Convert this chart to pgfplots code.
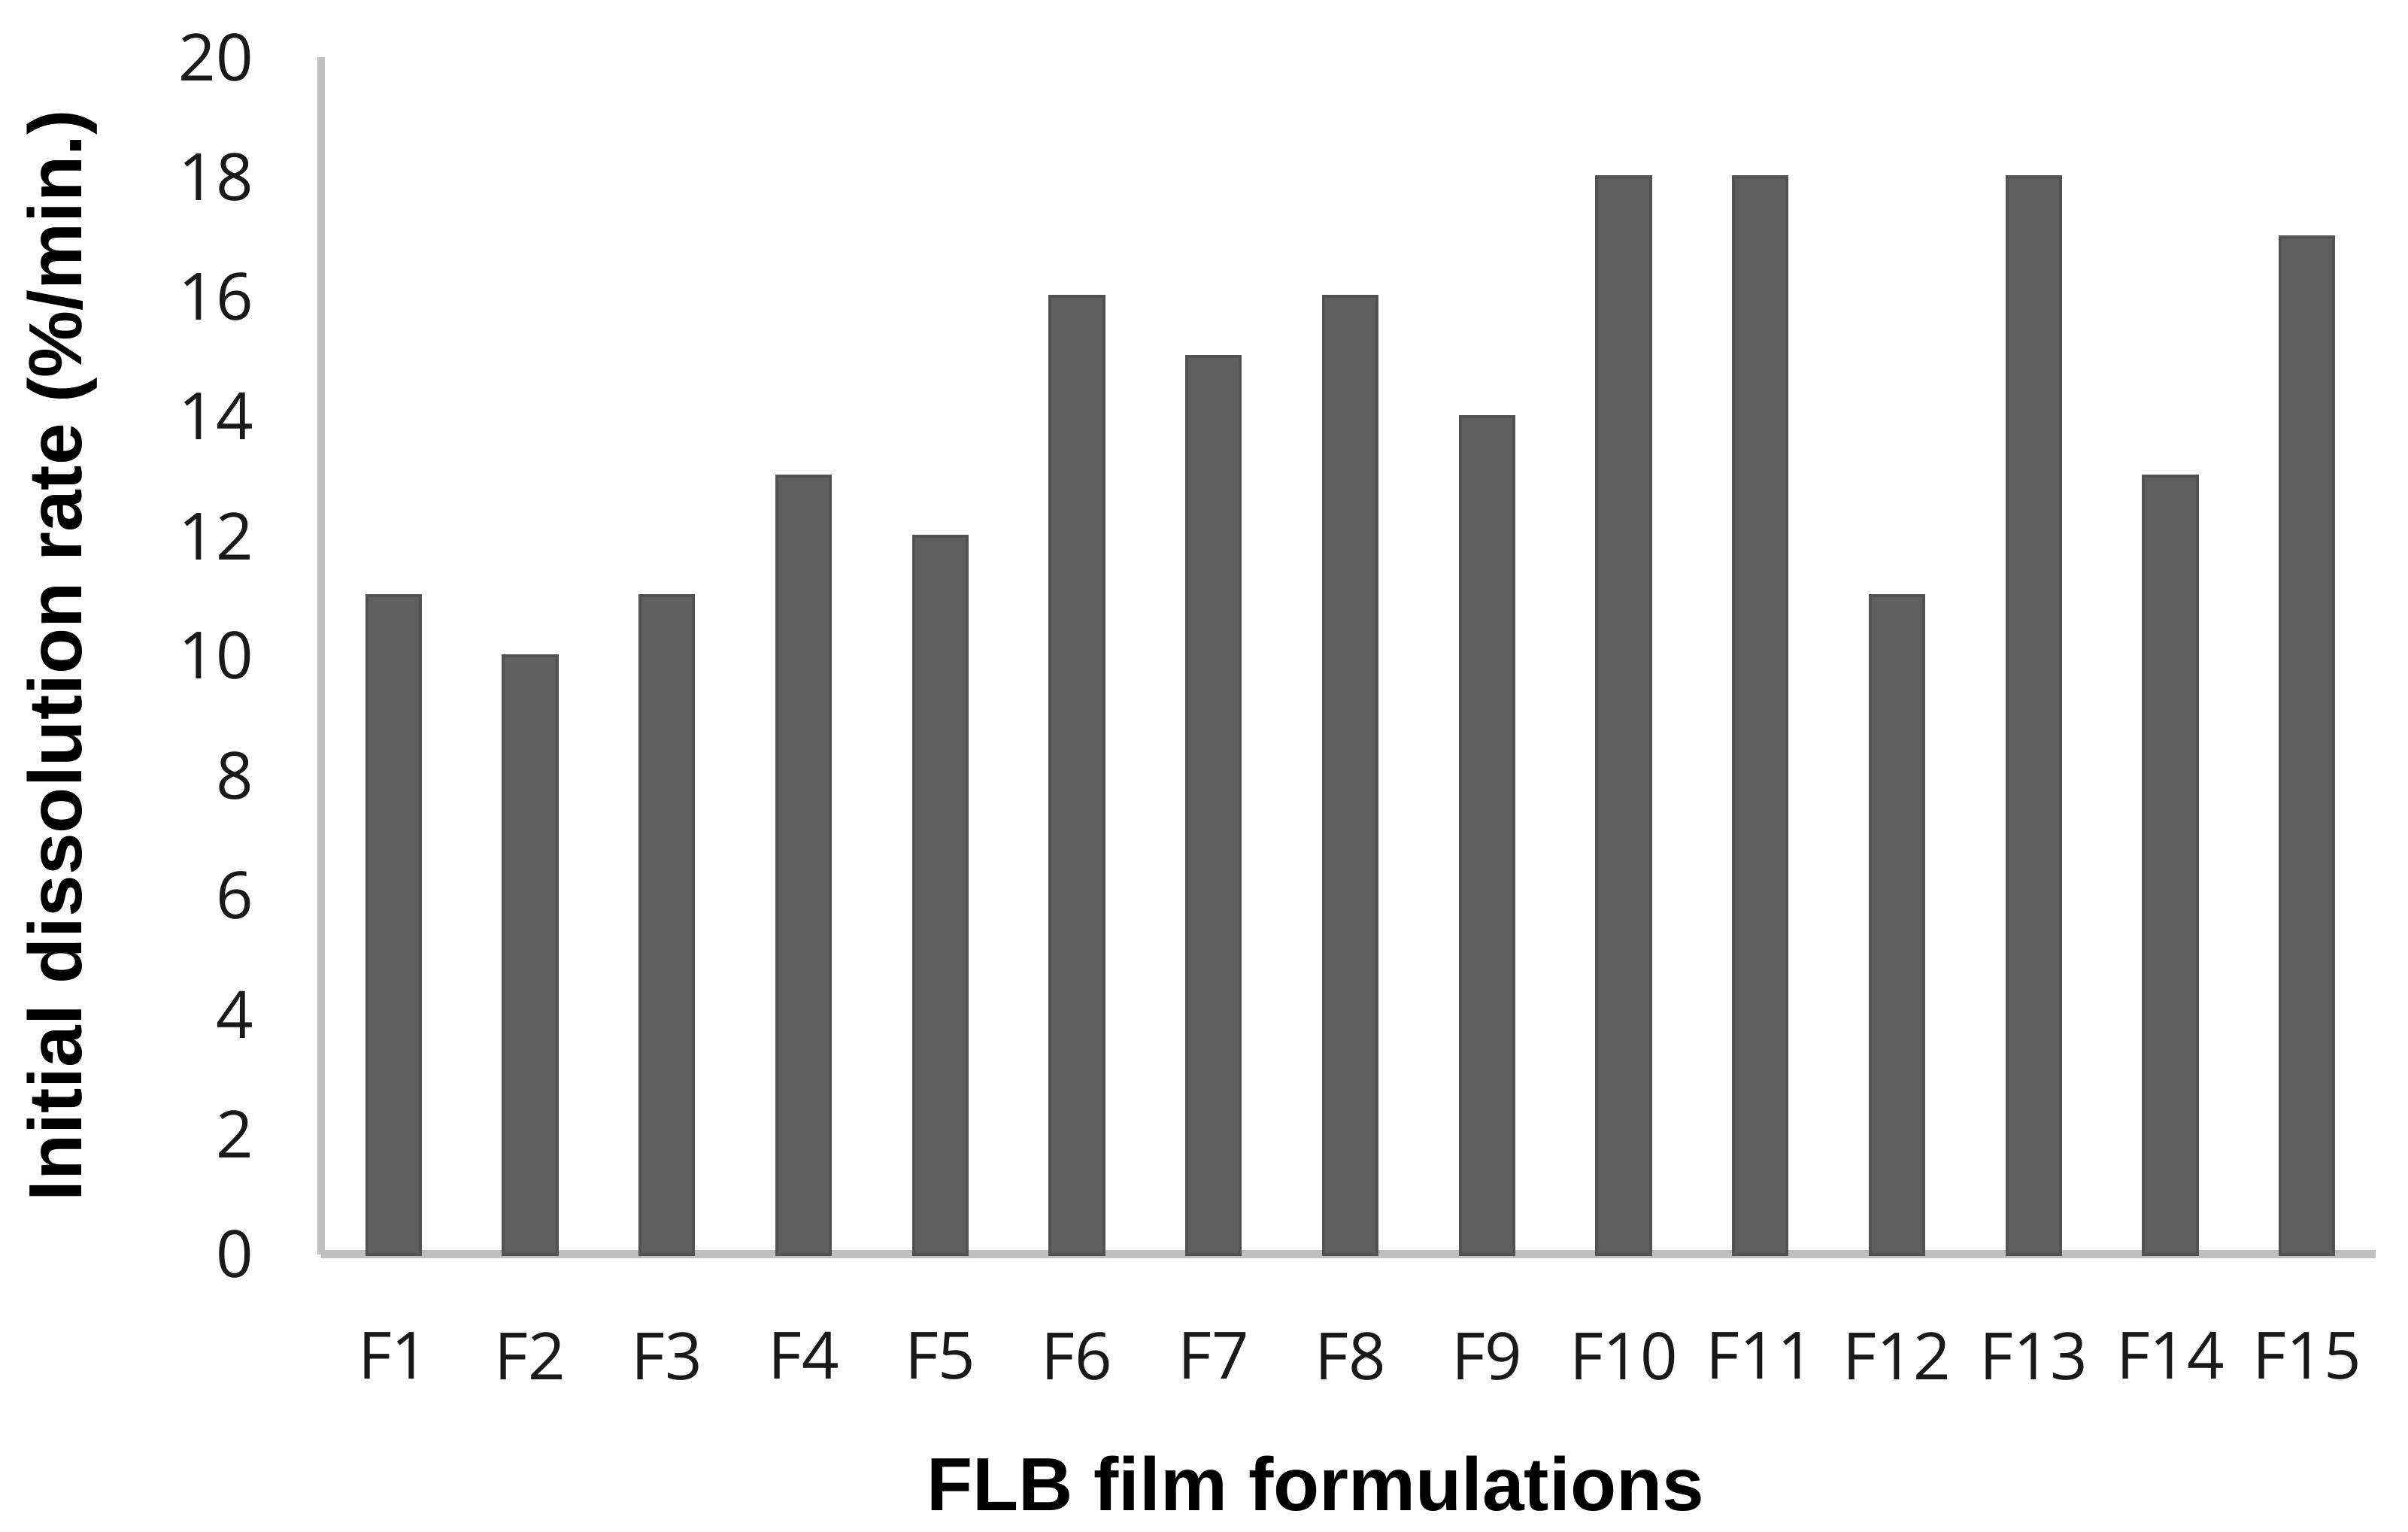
\documentclass[border=0pt]{standalone}
\usepackage{fontspec}
\setmainfont{Liberation Sans}
\newfontfamily\tickfont{Open Sans}
\usepackage{pgfplots}
\pgfplotsset{compat=1.18}
\definecolor{barfill}{RGB}{95,95,95}
\definecolor{baredge}{RGB}{82,82,82}
\definecolor{axisgray}{RGB}{191,191,191}
\begin{document}
\begin{tikzpicture}
\useasboundingbox (0,0) rectangle (480pt,305.3pt);
\begin{axis}[
  at={(64pt,55.3pt)}, anchor=south west,
  scale only axis,
  width=409.5pt, height=238.6pt,
  ybar, bar width=10.7pt,
  xmin=0.47, xmax=15.5,
  ymin=0, ymax=20,
  ytick={0,2,...,20},
  xtick=data,
  xticklabels={F1,F2,F3,F4,F5,F6,F7,F8,F9,F10,F11,F12,F13,F14,F15},
  axis x line=bottom, axis y line=left,
  axis line style={-, draw=axisgray, line width=1.6pt},
  major tick length=0pt,
  /pgf/number format/assume math mode=true,
  tick label style={font=\tickfont\fontsize{13}{15}\selectfont, text=black!90},
  xticklabel style={yshift=-12pt},
  yticklabel style={xshift=-10pt},
  xlabel={FLB film formulations},
  ylabel={Initial dissolution rate (\%/min.)},
  label style={font=\bfseries\fontsize{15}{18}\selectfont},
  xlabel style={at={(axis description cs:0.484,-0.1915)}, anchor=center},
  ylabel style={at={(axis description cs:-0.1262,0.5)}, anchor=center},
  clip=false,
]
\addplot[fill=barfill, draw=baredge, line width=0.6pt] coordinates {
(1,11) (2,10) (3,11) (4,13) (5,12) (6,16) (7,15) (8,16) (9,14) (10,18) (11,18) (12,11) (13,18) (14,13) (15,17)
};
\end{axis}
\end{tikzpicture}
\end{document}
